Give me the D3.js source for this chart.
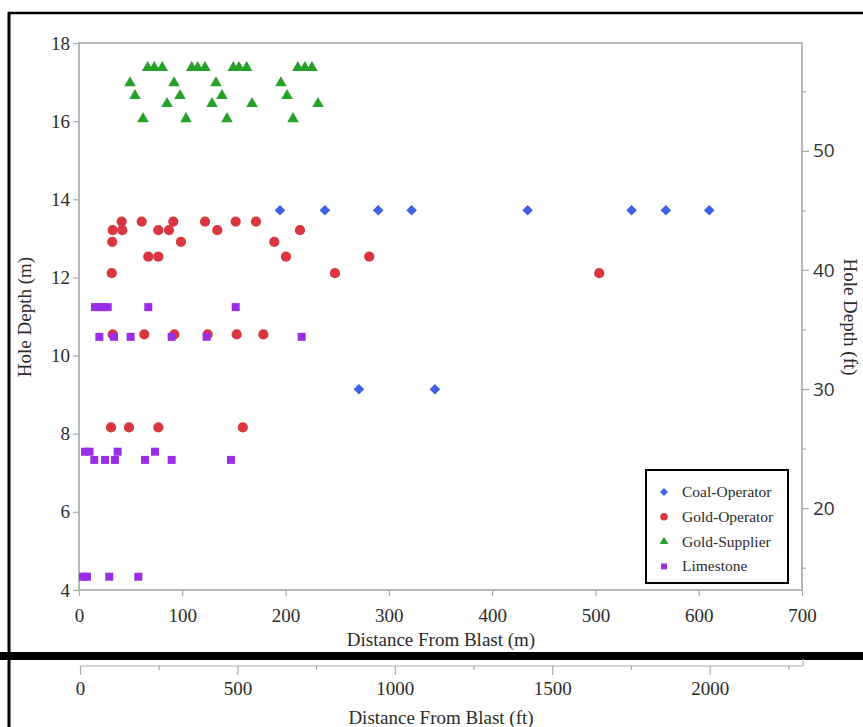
<!DOCTYPE html>
<html>
<head>
<meta charset="utf-8">
<script src="https://cdn.jsdelivr.net/npm/d3@7"></script>
<style>
  body { margin: 0; background: #fff; }
  svg { display: block; }
  .serif { font-family: "Liberation Serif", "Times New Roman", serif; fill: #2b2b2b; }
  .sans { font-family: "Open Sans", "Noto Sans", sans-serif; fill: #333; }
</style>
</head>
<body>
<svg id="chart"></svg>
<script>
// hole depth (m) vs distance from blast (m), one pair of arrays per site
const coalDist   = [194.6, 238.1, 289.7, 322, 434.4, 535, 568.2, 610.2, 271, 344.6];
const coalDepth  = [13.72, 13.72, 13.72, 13.72, 13.72, 13.72, 13.72, 13.72, 9.14, 9.14];

const goldOpDist  = [32.6, 41.9, 41.3, 32.2, 60.7, 76.8, 87.1, 91.3, 98.7, 67.1, 76.8, 31.7,
                     122, 133.9, 151.7, 171.3, 189.1, 200.4, 213.9, 281, 247.8, 503.7,
                     32.6, 63.2, 92.3, 124.6, 152.7, 178.5,
                     31, 48.4, 76.8, 158.6];
const goldOpDepth = [13.21, 13.21, 13.43, 12.91, 13.43, 13.21, 13.21, 13.43, 12.91, 12.53, 12.53, 12.11,
                     13.43, 13.21, 13.43, 13.43, 12.91, 12.53, 13.21, 12.53, 12.11, 12.11,
                     10.54, 10.54, 10.54, 10.54, 10.54, 10.54,
                     8.16, 8.16, 8.16, 8.16];

const goldSupDist  = [66.5, 72.9, 80.6, 109.1, 114.9, 122, 149.4, 154.9, 162.3, 211.9, 218.7, 225.5,
                      49.4, 92, 132.6, 195.5,
                      54.2, 97.8, 138.4, 201.4,
                      85.2, 128.8, 167.5, 231.4,
                      62, 103.6, 143.3, 207.2];
const goldSupDepth = [17.37, 17.37, 17.37, 17.37, 17.37, 17.37, 17.37, 17.37, 17.37, 17.37, 17.37, 17.37,
                      16.98, 16.98, 16.98, 16.98,
                      16.65, 16.65, 16.65, 16.65,
                      16.45, 16.45, 16.45, 16.45,
                      16.06, 16.06, 16.06, 16.06];

const limeDist  = [15.5, 19.5, 23.5, 27.8, 67.1, 151.7,
                   19.7, 33.9, 50, 89.7, 123.6, 215.6,
                   5.8, 10.2, 37.4, 73.6,
                   14.8, 25.2, 34.8, 63.9, 89.7, 147.1,
                   3.9, 7.7, 29.3, 57.4];
const limeDepth = [11.24, 11.24, 11.24, 11.24, 11.24, 11.24,
                   10.48, 10.48, 10.48, 10.48, 10.48, 10.48,
                   7.54, 7.54, 7.54, 7.54,
                   7.33, 7.33, 7.33, 7.33, 7.33, 7.33,
                   4.34, 4.34, 4.34, 4.34];

const depthTicks = [4, 6, 8, 10, 12, 14, 16, 18];
const distTicks  = [0, 100, 200, 300, 400, 500, 600, 700];
const ftDepthTicks = [15, 20, 25, 30, 35, 40, 45, 50, 55];
const ftDistTicks  = [0, 250, 500, 750, 1000, 1250, 1500, 1750, 2000, 2250];

const FT = 0.3048;
const width = 863, height = 727;

const series = [
  {name: "Coal-Operator", xs: coalDist,   ys: coalDepth,   color: "#3f60e6", shape: "diamond"},
  {name: "Gold-Operator", xs: goldOpDist, ys: goldOpDepth, color: "#d9363f", shape: "circle"},
  {name: "Gold-Supplier", xs: goldSupDist, ys: goldSupDepth, color: "#26a22a", shape: "triangle"},
  {name: "Limestone",     xs: limeDist,   ys: limeDepth,   color: "#9a2ee6", shape: "square"}
];

const svg = d3.select("#chart").attr("width", width).attr("height", height);

const x = d3.scaleLinear().domain([0, 700]).range([79, 802]);
const y = d3.scaleLinear().domain([4, 18]).range([590, 43]);
const yFt = d3.scaleLinear().domain([4 / FT, 18 / FT]).range([590, 43]);
const xFt = d3.scaleLinear().domain([0, 700 / FT]).range([80, 803]);

function symbolPath(shape, big) {
  const k = big ? 1 : 0.55;
  if (shape === "circle") return d3.symbol(d3.symbolCircle, 82 * k)();
  if (shape === "square") return d3.symbol(d3.symbolSquare, 64 * k)();
  if (shape === "triangle") return d3.symbol(d3.symbolTriangle, 58 * k)();
  return d3.symbol(d3.symbolSquare, 56 * k)();
}

// outer black frame
svg.append("line").attr("x1", 8).attr("x2", width).attr("y1", 13).attr("y2", 13)
   .attr("stroke", "#000").attr("stroke-width", 2.5);
svg.append("line").attr("x1", 9).attr("x2", 9).attr("y1", 12).attr("y2", height)
   .attr("stroke", "#000").attr("stroke-width", 3);
svg.append("rect").attr("x", 0).attr("y", 652).attr("width", width).attr("height", 8)
   .attr("fill", "#000");

// plot frame
svg.append("rect").attr("x", 79).attr("y", 43).attr("width", 723).attr("height", 547)
   .attr("fill", "none").attr("stroke", "#b8b8b8").attr("stroke-width", 2);

function styleAxis(g) {
  g.select(".domain").remove();
  g.selectAll(".tick line").attr("stroke", "#aaa").attr("stroke-width", 1.2);
  g.selectAll("text").attr("fill", "#2b2b2b");
}

// left axis
svg.append("g").attr("transform", "translate(79,0)")
   .call(d3.axisLeft(y).tickValues(depthTicks).tickSize(6).tickPadding(3))
   .call(styleAxis)
   .selectAll("text").attr("class", "serif").style("font-size", "19px");

// bottom axis (m)
svg.append("g").attr("transform", "translate(0,590)")
   .call(d3.axisBottom(x).tickValues(distTicks).tickSize(6).tickPadding(13))
   .call(styleAxis)
   .selectAll("text").attr("class", "serif").style("font-size", "19px");

// right axis (ft)
const rAxis = svg.append("g").attr("transform", "translate(802,0)")
   .call(d3.axisRight(yFt).tickValues(ftDepthTicks)
         .tickFormat(d => d % 10 === 0 ? d : "").tickSize(0).tickPadding(11))
   .call(styleAxis);
rAxis.selectAll(".tick line").attr("x2", d => d % 10 === 0 ? 7 : 4);
rAxis.selectAll("text").attr("class", "sans").style("font-size", "19px");

// lower axis (ft)
const bAxis = svg.append("g").attr("transform", "translate(0,666)")
   .call(d3.axisBottom(xFt).tickValues(ftDistTicks)
         .tickFormat(d => d % 500 === 0 ? d : "").tickSize(0).tickPadding(16))
   .call(styleAxis);
bAxis.selectAll(".tick line").attr("y2", d => d % 500 === 0 ? 9 : 4);
bAxis.selectAll("text").attr("class", "serif").style("font-size", "19px");
bAxis.append("line").attr("x1", 80).attr("x2", 803).attr("stroke", "#aaa").attr("stroke-width", 1.2);
bAxis.append("line").attr("x1", 803).attr("x2", 803).attr("y1", 0).attr("y2", -7)
   .attr("stroke", "#aaa").attr("stroke-width", 1.2);

// axis titles
svg.append("text").attr("class", "serif").attr("text-anchor", "middle")
   .attr("transform", "translate(31,317) rotate(-90)").style("font-size", "19px")
   .text("Hole Depth (m)");
svg.append("text").attr("class", "serif").attr("text-anchor", "middle")
   .attr("transform", "translate(844,317) rotate(90)").style("font-size", "19px")
   .text("Hole Depth (ft)");
svg.append("text").attr("class", "serif").attr("text-anchor", "middle")
   .attr("x", 441).attr("y", 646).style("font-size", "19px")
   .text("Distance From Blast (m)");
svg.append("text").attr("class", "serif").attr("text-anchor", "middle")
   .attr("x", 441).attr("y", 724).style("font-size", "19px")
   .text("Distance From Blast (ft)");

// points
series.forEach(s => {
  svg.append("g").selectAll("path")
     .data(s.xs.map((d, i) => [d, s.ys[i]]))
     .enter()
     .append("path")
     .attr("d", symbolPath(s.shape, true))
     .attr("transform", d => `translate(${x(d[0])},${y(d[1])})` + (s.shape === "diamond" ? " rotate(45)" : ""))
     .attr("fill", s.color);
});

// legend
const legend = svg.append("g");
legend.append("rect").attr("x", 646).attr("y", 470).attr("width", 142).attr("height", 113)
   .attr("fill", "#fff").attr("stroke", "#000").attr("stroke-width", 2);
const item = legend.selectAll("g.item").data(series).enter().append("g")
   .attr("transform", (d, i) => `translate(0,${492 + i * 24.8})`);
item.append("path")
   .attr("d", d => symbolPath(d.shape, false))
   .attr("transform", d => "translate(664,0)" + (d.shape === "diamond" ? " rotate(45)" : ""))
   .attr("fill", d => d.color);
item.append("text").attr("class", "serif").attr("x", 682).attr("y", 5)
   .style("font-size", "15.5px").text(d => d.name);
</script>
</body>
</html>
